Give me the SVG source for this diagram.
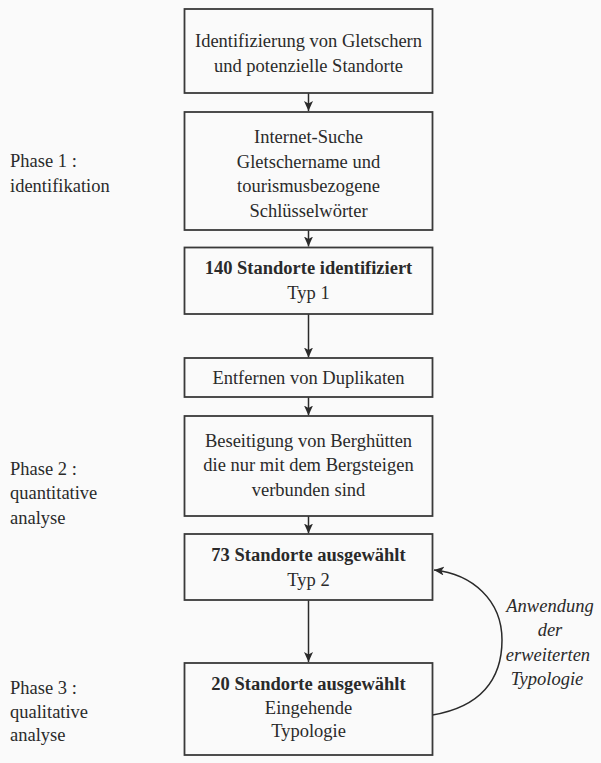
<svg xmlns="http://www.w3.org/2000/svg" width="601" height="763" viewBox="0 0 601 763">
<style>
text{font-family:"Liberation Serif","Times New Roman",serif;font-size:18.5px;fill:#2a2a2a}
.c{text-anchor:middle}
.b{font-weight:bold}
.i{font-style:italic;text-anchor:middle}
.box{fill:#fafafa;stroke:#3a3a3a;stroke-width:1.8}
.ln{fill:none;stroke:#2a2a2a;stroke-width:1.5}
</style>
<defs>
<marker id="ah" markerUnits="userSpaceOnUse" markerWidth="11" markerHeight="9" refX="10" refY="4.5" orient="auto" viewBox="0 0 11 9">
<path d="M0,0 L10,4.5 L0,9 L2.5,4.5 z" fill="#2a2a2a"/>
</marker>
</defs>
<rect width="601" height="763" fill="#fafafa"/>
<g id="connectors">
<line class="ln" x1="308.5" y1="93" x2="308.5" y2="111" marker-end="url(#ah)"/>
<line class="ln" x1="308.5" y1="230" x2="308.5" y2="246.5" marker-end="url(#ah)"/>
<line class="ln" x1="308.5" y1="314" x2="308.5" y2="357.5" marker-end="url(#ah)"/>
<line class="ln" x1="308.5" y1="397" x2="308.5" y2="415.5" marker-end="url(#ah)"/>
<line class="ln" x1="308.5" y1="516" x2="308.5" y2="533.5" marker-end="url(#ah)"/>
<line class="ln" x1="308.5" y1="600" x2="308.5" y2="662" marker-end="url(#ah)"/>
<path class="ln" d="M432.5,715 C480,707 502,680 502,640 C502,600 472,574 434,570" marker-end="url(#ah)"/>
</g>
<g id="n1">
<rect class="box" x="184.5" y="9" width="248" height="84"/>
<text class="c" x="308.5" y="47">Identifizierung von Gletschern</text>
<text class="c" x="308.5" y="72">und potenzielle Standorte</text>
</g>
<g id="n2">
<rect class="box" x="184.5" y="112" width="248" height="118"/>
<text class="c" x="308.5" y="143">Internet-Suche</text>
<text class="c" x="308.5" y="167.5">Gletschername und</text>
<text class="c" x="308.5" y="192">tourismusbezogene</text>
<text class="c" x="308.5" y="216.5">Schlüsselwörter</text>
</g>
<g id="n3">
<rect class="box" x="184.5" y="247.5" width="248" height="66.5"/>
<text class="c b" x="308.5" y="273.5">140 Standorte identifiziert</text>
<text class="c" x="308.5" y="298.5">Typ 1</text>
</g>
<g id="n4">
<rect class="box" x="184.5" y="358" width="248" height="39"/>
<text class="c" x="308.5" y="383.5">Entfernen von Duplikaten</text>
</g>
<g id="n5">
<rect class="box" x="184.5" y="416" width="248" height="100"/>
<text class="c" x="308.5" y="446.5">Beseitigung von Berghütten</text>
<text class="c" x="308.5" y="471">die nur mit dem Bergsteigen</text>
<text class="c" x="308.5" y="495.5">verbunden sind</text>
</g>
<g id="n6">
<rect class="box" x="184.5" y="534" width="248" height="66"/>
<text class="c b" x="308.5" y="561">73 Standorte ausgewählt</text>
<text class="c" x="308.5" y="586">Typ 2</text>
</g>
<g id="n7">
<rect class="box" x="184.5" y="663" width="248" height="92"/>
<text class="c b" x="308.5" y="690">20 Standorte ausgewählt</text>
<text class="c" x="308.5" y="713.5">Eingehende</text>
<text class="c" x="308.5" y="737">Typologie</text>
</g>
<g id="loop-label">
<text class="i" x="550" y="611.5">Anwendung</text>
<text class="i" x="550" y="636">der</text>
<text class="i" x="548" y="660.5">erweiterten</text>
<text class="i" x="547" y="685">Typologie</text>
</g>
<g id="phases">
<text x="10" y="167">Phase 1 :</text>
<text x="10" y="192">identifikation</text>
<text x="10" y="475">Phase 2 :</text>
<text x="10" y="499">quantitative</text>
<text x="10" y="523.5">analyse</text>
<text x="10" y="694">Phase 3 :</text>
<text x="10" y="717.5">qualitative</text>
<text x="10" y="740.5">analyse</text>
</g>
</svg>
